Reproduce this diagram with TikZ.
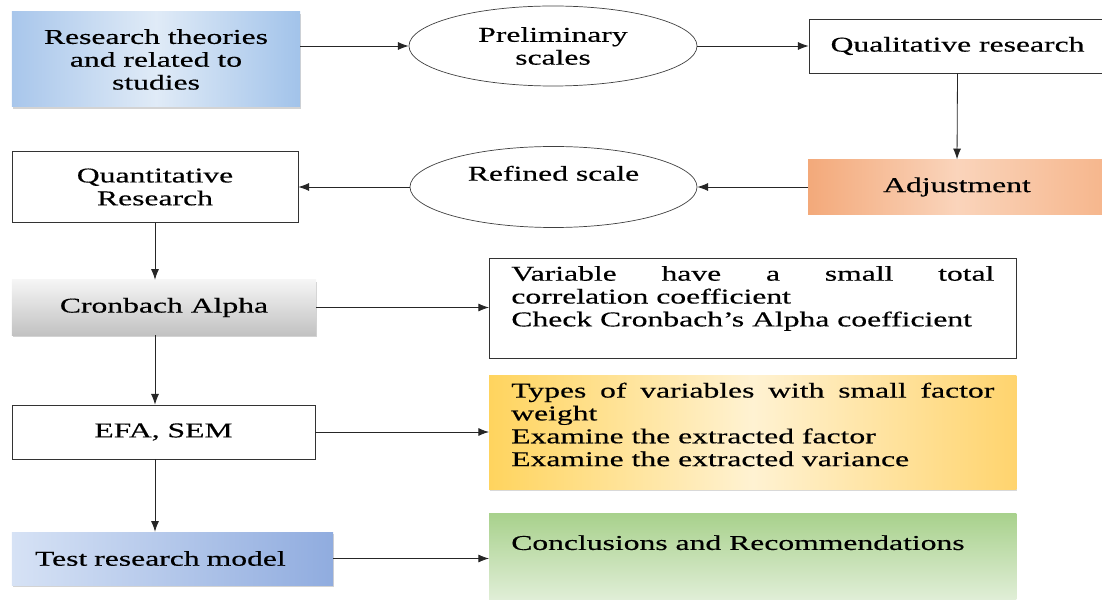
\documentclass[tikz,border=0pt]{standalone}
\usepackage{fontspec}
\setmainfont{Liberation Serif}[FakeStretch=1.5, FakeBold=0.4]
\usetikzlibrary{arrows.meta}
\usetikzlibrary{shapes}
\usetikzlibrary{backgrounds,shadows}

\definecolor{theoryL}{HTML}{A8C6EB}
\definecolor{theoryM}{HTML}{E0EBF7}
\definecolor{theoryR}{HTML}{A2C3EA}
\definecolor{adjustL}{HTML}{F3A97A}
\definecolor{adjustM}{HTML}{FAD4BB}
\definecolor{adjustR}{HTML}{F6B68C}
\definecolor{cronTop}{HTML}{F5F5F5}
\definecolor{cronBot}{HTML}{C2C2C2}
\definecolor{testL}{HTML}{D6E2F5}
\definecolor{testR}{HTML}{90ACDF}
\definecolor{typesL}{HTML}{FFD45E}
\definecolor{typesM}{HTML}{FFF2D2}
\definecolor{typesR}{HTML}{FFD46E}
\definecolor{conclTop}{HTML}{A8D18C}
\definecolor{conclBot}{HTML}{E4F0DC}

\begin{document}
\begin{tikzpicture}[x=0.03cm, y=-0.03cm,
    font=\fontsize{18}{19.5}\selectfont,
    box/.style={rectangle, draw=black!80, line width=0.6pt, align=center, inner sep=0pt},
    oval/.style={ellipse, draw=black!75, line width=0.6pt, align=center, inner sep=0pt},
    fancy/.style={rectangle, align=center, inner sep=0pt,
        drop shadow={shadow xshift=0.6pt, shadow yshift=-1.6pt, opacity=0.35}},
    note/.style={rectangle, anchor=north west, text width=14.49cm, align=justify,
        inner xsep=0.66cm, inner ysep=0.25cm, text height=0.42cm},
    arr/.style={-{Latex[length=3.2mm,width=2.4mm]}, line width=0.7pt, black!85}]

    \useasboundingbox (0, 0) rectangle (1102, 600);

    % Declare the top row
    \node[fancy, left color=theoryL, right color=theoryR, middle color=theoryM,
        minimum width=8.64cm, minimum height=2.85cm] at (156, 59.5) (theory)
        {Research theories\\and related to\\studies};
    \node[oval, minimum width=8.64cm, minimum height=2.4cm] at (553, 46) (prelim)
        {Preliminary\\scales};
    \node[box, minimum width=8.91cm, minimum height=1.62cm] at (957.5, 46) (qual)
        {Qualitative research};

    % Declare the second row
    \node[rectangle, inner sep=0pt, left color=adjustL, right color=adjustR, middle color=adjustM,
        minimum width=8.94cm, minimum height=1.65cm] at (957, 187) (adjust) {Adjustment};
    \node[oval, minimum width=8.61cm, minimum height=2.43cm,
        text height=0.42cm, text depth=0.8cm] at (553.5, 187) (refined) {Refined scale};
    \node[box, minimum width=8.58cm, minimum height=2.13cm] at (155, 187) (quant)
        {Quantitative\\Research};

    % Declare the left column
    \node[fancy, top color=cronTop, bottom color=cronBot,
        minimum width=9.12cm, minimum height=1.65cm] at (164, 307.5) (cron) {Cronbach Alpha};
    \node[box, minimum width=9.09cm, minimum height=1.62cm] at (163.5, 432) (efa) {EFA, SEM};
    \node[fancy, left color=testL, right color=testR, align=left, text width=8.25cm,
        inner xsep=0.69cm, minimum width=9.63cm, minimum height=1.59cm] at (172.5, 558.5) (test)
        {Test research model};

    % Declare the notes on the right
    \node[note, draw=black!80, line width=0.6pt, text depth=2.08cm] at (489, 258) (var)
        {Variable have a small total\linebreak correlation coefficient\\Check Cronbach’s Alpha coefficient};
    \node[note, left color=typesL, right color=typesR, middle color=typesM, text depth=2.5cm,
        drop shadow={shadow xshift=0.6pt, shadow yshift=-1.6pt, opacity=0.3}] at (489, 375) (types)
        {Types of variables with small factor\linebreak weight\\Examine the extracted factor\\Examine the extracted variance};
    \node[note, top color=conclTop, bottom color=conclBot, text height=0.85cm, text depth=1.41cm]
        at (489, 513) (concl) {Conclusions and Recommendations};

    % Declare edges
    \draw[arr] (theory.east |- prelim.west) -- (prelim.west);
    \draw[arr] (prelim.east) -- (qual.west);
    \draw[arr] (qual.south) -- (adjust.north);
    \draw[arr] (adjust.west) -- (refined.east);
    \draw[arr] (refined.west) -- (quant.east);
    \draw[arr] (quant.south) -- (quant.south |- cron.north);
    \draw[arr] (cron.south -| quant.south) -- (efa.north -| quant.south);
    \draw[arr] (efa.south -| quant.south) -- (test.north -| quant.south);
    \draw[arr] (cron.east) -- (cron.east -| var.west);
    \draw[arr] (efa.east) -- (efa.east -| types.west);
    \draw[arr] (test.east) -- (test.east -| concl.west);

\end{tikzpicture}
\end{document}
